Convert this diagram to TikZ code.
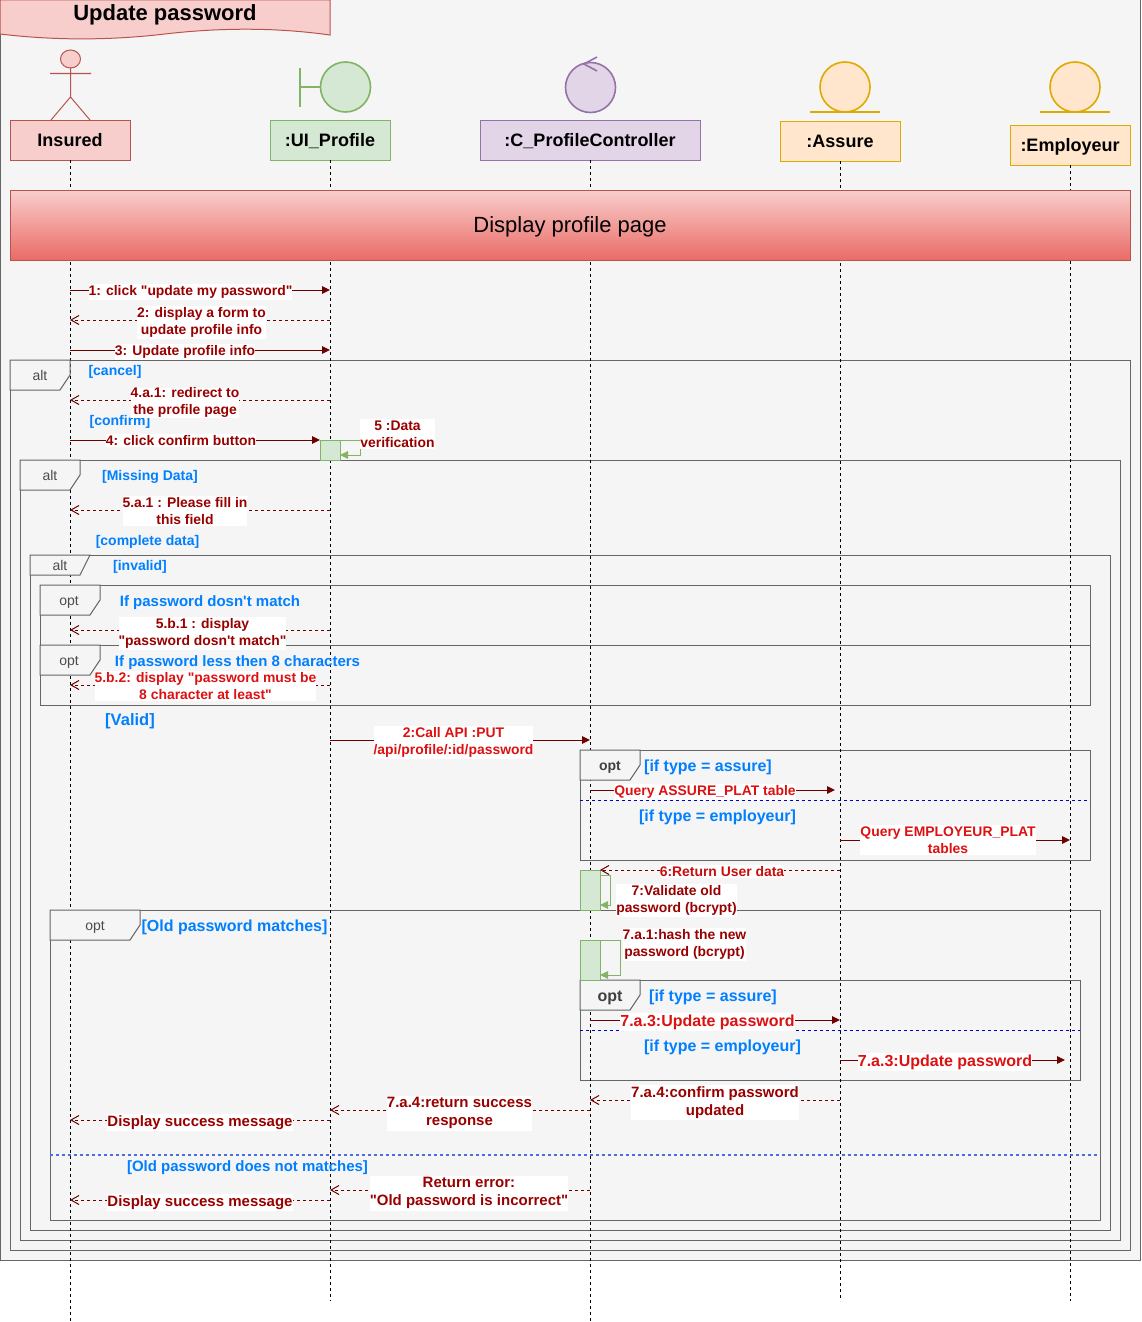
\documentclass[tikz,border=0pt]{standalone}
\usepackage{fontspec}
\setmainfont{Liberation Sans}[Ligatures=TeXOff]
\usetikzlibrary{arrows.meta}
\definecolor{panelc}{HTML}{F5F5F5}
\definecolor{framec}{HTML}{666666}
\definecolor{redf}{HTML}{F8CECC}
\definecolor{redd}{HTML}{B85450}
\definecolor{gradb}{HTML}{EA6B66}
\definecolor{greenf}{HTML}{D5E8D4}
\definecolor{greend}{HTML}{82B366}
\definecolor{purf}{HTML}{E1D5E7}
\definecolor{purd}{HTML}{9673A6}
\definecolor{oraf}{HTML}{FFE6CC}
\definecolor{orad}{HTML}{D79B00}
\definecolor{arrowc}{HTML}{6F0000}
\definecolor{msgc}{HTML}{990000}
\definecolor{msgb}{HTML}{DD1111}
\definecolor{guardc}{HTML}{007FFF}
\definecolor{divc}{HTML}{0000CC}
\definecolor{divd}{HTML}{4A6FE0}
\tikzset{
  x=1pt,y=-1pt,
  every node/.style={inner sep=0pt,outer sep=0pt,font=\fontsize{14}{17}\selectfont},
  head/.style={draw,minimum width=120pt,minimum height=40pt,line width=1pt,text height=12pt,text depth=0pt,font=\fontsize{18}{21}\selectfont\bfseries},
  lifeline/.style={black,dash pattern=on 3pt off 3pt,line width=1pt},
  frameb/.style={draw=framec,line width=1pt},
  tabb/.style={draw=framec,fill=panelc,line width=1pt},
  tabt/.style={yshift=-0.7pt,text=black!70,font=\fontsize{14}{17}\selectfont},
  tabtb/.style={yshift=-1.8pt,text=black!75,font=\fontsize{14}{17}\selectfont\bfseries},
  guard/.style={yshift=-1.8pt,text=guardc,font=\fontsize{14}{17}\selectfont\bfseries},
  guardb/.style={yshift=-1.8pt,text=guardc,font=\fontsize{15}{18}\selectfont\bfseries},
  guardc/.style={yshift=-1.8pt,text=guardc,font=\fontsize{16}{19}\selectfont\bfseries},
  lab/.style={yshift=-1.8pt,fill=white,text=msgc,align=center,inner ysep=1.5pt,font=\fontsize{13.9}{17}\selectfont\bfseries},
  labb/.style={lab,font=\fontsize{15}{18}\selectfont\bfseries},
  labr/.style={lab,text=msgb},
  sync/.style={draw=arrowc,line width=1pt,-{Triangle[length=8pt,width=7.5pt]}},
  reply/.style={draw=arrowc,line width=1pt,dash pattern=on 3pt off 3pt,-{Straight Barb[length=8pt,width=9pt]}},
  selfm/.style={draw=greend,line width=1pt,-{Triangle[length=8pt,width=7.5pt]}},
  act/.style={draw=greend,fill=greenf,line width=1pt,minimum width=20pt},
  divl/.style={draw=divc,line width=1pt,dash pattern=on 3pt off 3pt},
  divo/.style={draw=divd,line width=1.4pt,dash pattern=on 3pt off 3pt},
}
\begin{document}
\begin{tikzpicture}
\useasboundingbox (0,0) rectangle (1141,1322);
% panel
\draw[fill=panelc,draw=framec,line width=1pt] (0,0) rectangle (1140,1260);
% frames
\draw[frameb] (10,360) rectangle (1130,1250);
\draw[frameb] (20,460) rectangle (1120,1240);
\draw[frameb] (30,555) rectangle (1110,1230);
\draw[frameb] (40,585) rectangle (1090,645);
\draw[frameb] (40,645) rectangle (1090,705);
\draw[frameb] (580,750) rectangle (1090,860);
\draw[frameb] (50,910) rectangle (1100,1220);
\draw[frameb] (580,980) rectangle (1080,1080);
% heads
\node[head,draw=redd,fill=redf] (insured) at (70,140) {Insured};
\node[head,draw=greend,fill=greenf] (ui) at (330,140) {:UI\_Profile};
\node[head,minimum width=220pt,draw=purd,fill=purf] (ctrl) at (590,140) {:C\_ProfileController};
\node[head,draw=orad!85!yellow,fill=oraf] (assure) at (840,141) {:Assure};
\node[head,draw=orad!85!yellow,fill=oraf] (emp) at (1070,145) {:Employeur};
% lifelines
\coordinate (insuredEnd) at (70,1322);
\coordinate (uiEnd) at (330,1301);
\coordinate (ctrlEnd) at (590,1322);
\coordinate (assureEnd) at (840,1301);
\coordinate (empEnd) at (1070,1301);
\draw[lifeline] (insured) -- (insuredEnd);
\draw[lifeline] (ui) -- (uiEnd);
\draw[lifeline] (ctrl) -- (ctrlEnd);
\draw[lifeline] (assure) -- (assureEnd);
\draw[lifeline] (emp) -- (empEnd);
% tabs
\draw[tabb] (10,360) -- (70,360) -- (70,375) -- (60,390) -- (10,390) -- cycle;
\draw[tabb] (20,460) -- (80,460) -- (80,475) -- (70,490) -- (20,490) -- cycle;
\draw[tabb] (30,555) -- (90,555) -- (80,575) -- (30,575) -- cycle;
\draw[tabb] (40,585) -- (100,585) -- (100,600) -- (90,615) -- (40,615) -- cycle;
\draw[tabb] (40,645) -- (100,645) -- (100,660) -- (90,675) -- (40,675) -- cycle;
\draw[tabb] (580,750) -- (640,750) -- (640,765) -- (630,780) -- (580,780) -- cycle;
\draw[tabb] (50,910) -- (140,910) -- (140,925) -- (130,940) -- (50,940) -- cycle;
\draw[tabb] (580,980) -- (640,980) -- (640,995) -- (630,1010) -- (580,1010) -- cycle;
\node[tabt] (t1) at (40,375) {alt};
\node[tabt] (t2) at (50,475) {alt};
\node[tabt] (t3) at (60,565) {alt};
\node[tabt] (t4) at (69,602) {opt};
\node[tabt] (t5) at (69,662) {opt};
\node[tabtb] (t6) at (610,765.5) {opt};
\node[tabt] (t7) at (95,927) {opt};
\node[tabtb,font=\fontsize{16}{19}\selectfont\bfseries] (t8) at (610,996) {opt};
% dividers
\coordinate (d1a) at (580,800); \coordinate (d1b) at (1090,800);
\coordinate (d2a) at (580,1030); \coordinate (d2b) at (1080,1030);
\coordinate (d3a) at (50,1155); \coordinate (d3b) at (1100,1155);
\draw[divl] (d1a) -- (d1b);
\draw[divl] (d2a) -- (d2b);
\draw[divo] (d3a) -- (d3b);
% title
\draw[draw=redd,fill=redf,line width=1pt] (0,0) -- (330,0) -- (330,35) .. controls (280,28) and (225,27) .. (165,34) .. controls (105,41) and (50,40) .. (0,34) -- cycle;
\node[yshift=-1.8pt,font=\fontsize{22}{26}\selectfont\bfseries] (title) at (165,13) {Update password};
% actor
\draw[redd,fill=redf,line width=1pt] (70.5,59) ellipse (10pt and 9pt);
\draw[redd,line width=1pt] (50,73.5) -- (91,73.5) (70.5,68) -- (70.5,97) (51,120) -- (70.5,97) -- (90,120);
% boundary
\draw[greend,line width=1.6pt] (300,68) -- (300,107) (300,87) -- (320,87);
\draw[greend,fill=greenf,line width=1.6pt] (345.5,87) circle (25pt);
% control
\draw[purd,fill=purf,line width=1.6pt] (590.5,87.5) circle (25pt);
\draw[purd,line width=1.6pt] (597,57) -- (584,64) -- (597,71);
% entities
\draw[orad!85!yellow,fill=oraf,line width=1.6pt] (845,87) ellipse (25pt and 25pt);
\draw[orad!85!yellow,line width=1.6pt] (810,112) -- (880,112);
\draw[orad!85!yellow,fill=oraf,line width=1.6pt] (1075,87) ellipse (25pt and 25pt);
\draw[orad!85!yellow,line width=1.6pt] (1040,112) -- (1110,112);
% display bar
\node[draw=redd,line width=1pt,top color=redf,bottom color=gradb,minimum width=1120pt,minimum height=70pt,text height=15pt,text depth=0pt,font=\fontsize{22}{26}\selectfont] (bar) at (570,225) {Display profile page};
% activations
\node[act,minimum height=20pt] (a1) at (330,450) {};
\node[act,minimum height=40pt] (a2) at (590,890) {};
\node[act,minimum height=40pt] (a3) at (590,960) {};
% self messages
\coordinate (s1a) at (340,440); \coordinate (s1b) at (360,440); \coordinate (s1c) at (360,455); \coordinate (s1d) at (340,455);
\draw[selfm] (s1a) -- (s1b) -- (s1c) -- (s1d);
\coordinate (s2a) at (600,875); \coordinate (s2b) at (610,875); \coordinate (s2c) at (610,905); \coordinate (s2d) at (600,905);
\draw[selfm] (s2a) -- (s2b) -- (s2c) -- (s2d);
\coordinate (s3a) at (600,940); \coordinate (s3b) at (620,940); \coordinate (s3c) at (620,975); \coordinate (s3d) at (600,975);
\draw[selfm] (s3a) -- (s3b) -- (s3c) -- (s3d);
% message end points
\coordinate (m1a) at (70,290); \coordinate (m1b) at (330,290);
\coordinate (m2a) at (330,320); \coordinate (m2b) at (70,320);
\coordinate (m3a) at (70,350); \coordinate (m3b) at (330,350);
\coordinate (m4a) at (330,400); \coordinate (m4b) at (70,400);
\coordinate (m5a) at (70,440); \coordinate (m5b) at (320,440);
\coordinate (m6a) at (330,510); \coordinate (m6b) at (70,510);
\coordinate (m7a) at (330,630); \coordinate (m7b) at (70,630);
\coordinate (m8a) at (330,685); \coordinate (m8b) at (70,685);
\coordinate (m9a) at (330,740); \coordinate (m9b) at (590,740);
\coordinate (m10a) at (590,790); \coordinate (m10b) at (835,790);
\coordinate (m11a) at (840,840); \coordinate (m11b) at (1070,840);
\coordinate (m12a) at (840,870); \coordinate (m12b) at (600,870);
\coordinate (m13a) at (590,1020); \coordinate (m13b) at (840,1020);
\coordinate (m14a) at (840,1060); \coordinate (m14b) at (1065,1060);
\coordinate (m15a) at (840,1100); \coordinate (m15b) at (590,1100);
\coordinate (m16a) at (590,1110); \coordinate (m16b) at (330,1110);
\coordinate (m17a) at (330,1120); \coordinate (m17b) at (70,1120);
\coordinate (m18a) at (590,1190); \coordinate (m18b) at (330,1190);
\coordinate (m19a) at (330,1200); \coordinate (m19b) at (70,1200);
\draw[sync] (m1a) -- (m1b);
\draw[reply] (m2a) -- (m2b);
\draw[sync] (m3a) -- (m3b);
\draw[reply] (m4a) -- (m4b);
\draw[sync] (m5a) -- (m5b);
\draw[reply] (m6a) -- (m6b);
\draw[reply] (m7a) -- (m7b);
\draw[reply] (m8a) -- (m8b);
\draw[sync] (m9a) -- (m9b);
\draw[sync] (m10a) -- (m10b);
\draw[sync] (m11a) -- (m11b);
\draw[reply] (m12a) -- (m12b);
\draw[sync] (m13a) -- (m13b);
\draw[sync] (m14a) -- (m14b);
\draw[reply] (m15a) -- (m15b);
\draw[reply] (m16a) -- (m16b);
\draw[reply] (m17a) -- (m17b);
\draw[reply] (m18a) -- (m18b);
\draw[reply] (m19a) -- (m19b);
% guards
\node[guard] (g1) at (115,370.5) {[cancel]};
\node[guard] (g2) at (120,420.5) {[confirm]};
\node[guard] (g3) at (150,475.5) {[Missing Data]};
\node[guard] (g4) at (147.5,540.5) {[complete data]};
\node[guard] (g5) at (140,565.5) {[invalid]};
\node[guardb] (g6) at (210,601) {If password dosn't match};
\node[guardb] (g7) at (237.5,661) {If password less then 8 characters};
\node[guardc,font=\fontsize{16.5}{19}\selectfont\bfseries] (g8) at (130,719.5) {[Valid]};
\node[guardc] (g9) at (708,765.5) {[if type = assure]};
\node[guardc] (g10) at (717.5,815.5) {[if type = employeur]};
\node[guardc] (g11) at (234.5,925.5) {[Old password matches]};
\node[guardc] (g12) at (713,995.5) {[if type = assure]};
\node[guardc] (g13) at (722.5,1045.5) {[if type = employeur]};
\node[guardb] (g14) at (247.5,1166) {[Old password does not matches]};
% labels
\node[lab] (l1) at (190.5,290.5) {1: click "update my password"};
\node[lab] (l2) at (201.5,321) {2: display a form to\\update profile info};
\node[lab] (l3) at (185,350.5) {3: Update profile info};
\node[lab,inner ysep=0pt] (l4) at (185,401) {4.a.1: redirect to\\the profile page};
\node[lab] (l5) at (181,438.5) {4: click confirm button};
\node[lab] (l6) at (397.5,432.5) {5 :Data\\verification};
\node[lab] (l7) at (185,509) {5.a.1 : Please fill in\\this field};
\node[lab] (l8) at (202.5,631.5) {5.b.1 : display\\"password dosn't match"};
\node[labr] (l9) at (205.5,684) {5.b.2: display "password must be\\8 character at least"};
\node[labr] (l10) at (453.5,741) {2:Call API :PUT\\/api/profile/:id/password};
\node[labr] (l11) at (705,790.5) {Query ASSURE\_PLAT table};
\node[labr] (l12) at (948,838) {Query EMPLOYEUR\_PLAT\\tables};
\node[lab,text=msgb!70!msgc] (l13) at (722,869.5) {6:Return User data};
\node[lab] (l14) at (676.5,899) {7:Validate old\\password (bcrypt)};
\node[lab] (l15) at (684.5,943) {7.a.1:hash the new\\password (bcrypt)};
\node[labr,font=\fontsize{16}{19}\selectfont\bfseries] (l16) at (707.5,1020.5) {7.a.3:Update password};
\node[labr,font=\fontsize{16}{19}\selectfont\bfseries] (l17) at (945,1060.5) {7.a.3:Update password};
\node[labb] (l18) at (715,1100.5) {7.a.4:confirm password\\updated};
\node[labb] (l19) at (459.5,1111.5) {7.a.4:return success\\response};
\node[labb] (l20) at (200,1120.5) {Display success message};
\node[labb] (l21) at (469,1191.5) {Return error:\\"Old password is incorrect"};
\node[labb] (l22) at (200,1200.5) {Display success message};
\end{tikzpicture}
\end{document}
